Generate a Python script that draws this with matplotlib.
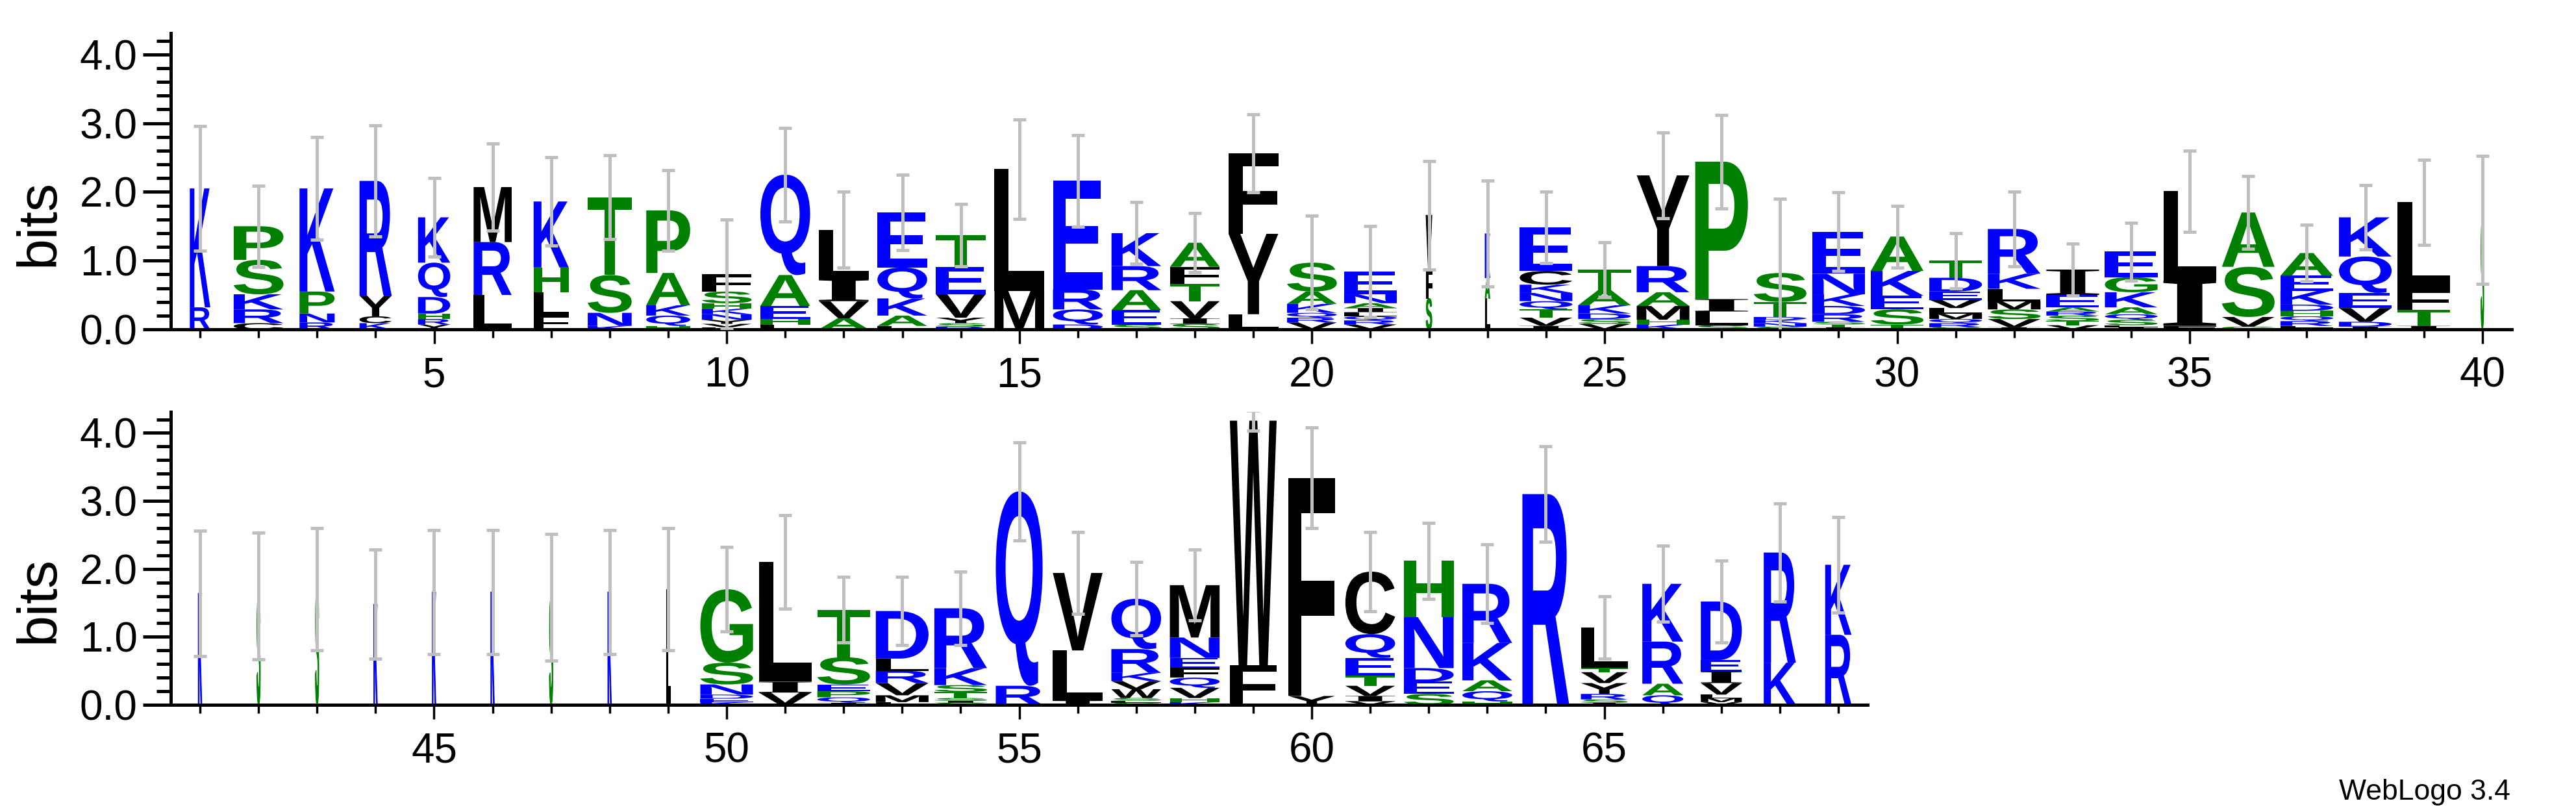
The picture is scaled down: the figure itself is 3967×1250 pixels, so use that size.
import matplotlib
matplotlib.use("Agg")
import matplotlib.pyplot as plt
import matplotlib.transforms as mtransforms
from matplotlib.textpath import TextPath
from matplotlib.font_manager import FontProperties
from matplotlib.patches import PathPatch
from matplotlib.ticker import MultipleLocator

# ── data: letters bottom→top, heights in bits, column widths, error-bar tops ──
top_letters = ["RK", "CRKSP", "RNPK", "KCYR", "YRHDQK", "LRM", "FLHK", "KNST", "HQKAP",
               "LVYNKHSF", "LHEAQ", "AVIL", "LAKQE", "RSYVET", "ML", "DQRE", "SEARK",
               "SIVTFA", "LYF", "VRQKAS", "VRQLIANE", "SFV", "LAK", "IVTQNKCE", "VSDKAT",
               "KHMARY", "SLIP", "SNKDTS", "ITSRDKNE", "TSEKA", "SRQMLVEDT", "IVSMLKR",
               "VTSRAEI", "ILSQAKGE", "FIL", "GVSA", "ILRQHDKEA", "IDVEQK", "ITFL", "S"]
top_heights = [[0.32, 1.73], [0.09, 0.2, 0.22, 0.5, 0.49], [0.1, 0.13, 0.32, 1.5],
               [0.09, 0.1, 0.3, 1.67], [0.07, 0.08, 0.08, 0.24, 0.5, 0.66], [0.5, 0.77, 0.8],
               [0.2, 0.34, 0.36, 0.96], [0.05, 0.19, 0.55, 1.13], [0.05, 0.15, 0.15, 0.47, 0.91],
               [0.03, 0.05, 0.06, 0.08, 0.08, 0.08, 0.17, 0.25], [0.07, 0.08, 0.19, 0.45, 1.46],
               [0.16, 0.25, 0.32, 0.72], [0.05, 0.15, 0.25, 0.45, 0.8],
               [0.04, 0.05, 0.08, 0.34, 0.4, 0.46], [0.56, 1.77], [0.07, 0.22, 0.29, 1.58],
               [0.07, 0.21, 0.29, 0.35, 0.48], [0.08, 0.08, 0.25, 0.25, 0.25, 0.35],
               [0.22, 1.17, 1.17], [0.1, 0.07, 0.07, 0.13, 0.18, 0.42],
               [0.07, 0.06, 0.06, 0.06, 0.06, 0.07, 0.13, 0.33], [0.45, 0.42, 0.79],
               [0.45, 0.3, 0.64], [0.05, 0.12, 0.12, 0.12, 0.12, 0.12, 0.2, 0.63],
               [0.08, 0.07, 0.08, 0.12, 0.22, 0.3], [0.07, 0.07, 0.2, 0.2, 0.38, 1.32],
               [0.06, 0.2, 0.18, 2.0], [0.04, 0.05, 0.05, 0.04, 0.22, 0.42, 0.66],
               [0.03, 0.04, 0.04, 0.11, 0.12, 0.17, 0.3, 0.61], [0.07, 0.22, 0.2, 0.36, 0.5],
               [0.03, 0.06, 0.06, 0.08, 0.08, 0.12, 0.12, 0.2, 0.25],
               [0.03, 0.12, 0.14, 0.12, 0.18, 0.22, 0.65], [0.06, 0.06, 0.08, 0.06, 0.06, 0.18, 0.37],
               [0.03, 0.03, 0.08, 0.08, 0.1, 0.22, 0.22, 0.37], [0.05, 0.66, 1.3],
               [0.04, 0.14, 0.73, 0.79], [0.02, 0.03, 0.07, 0.07, 0.08, 0.09, 0.2, 0.22, 0.33],
               [0.04, 0.07, 0.2, 0.22, 0.53, 0.57], [0.05, 0.23, 0.3, 1.27], [1.59]]
top_widths = [0.35, 0.85, 0.6, 0.55, 0.55, 0.65, 0.6, 0.75, 0.75, 0.85, 0.85, 0.85, 0.85,
              0.85, 0.85, 0.85, 0.85, 0.85, 0.85, 0.85, 0.9, 0.1, 0.08, 0.9, 0.9, 0.9, 0.9,
              0.9, 0.9, 0.9, 0.9, 0.9, 0.9, 0.9, 0.9, 0.9, 0.9, 0.9, 0.9, 0.05]
top_err_hi = [2.96, 2.09, 2.8, 2.97, 2.2, 2.7, 2.5, 2.53, 2.32, 1.6, 2.93, 2.0, 2.25, 1.82,
              3.05, 2.83, 1.85, 1.69, 3.13, 1.65, 1.5, 2.45, 2.16, 2.0, 1.27, 2.86, 3.12, 1.9,
              1.99, 1.8, 1.4, 2.0, 1.25, 1.55, 2.6, 2.23, 1.52, 2.1, 2.47, 2.52]

bot_letters = ["K", "S", "S", "K", "K", "K", "S", "K", "L", "KEDNSG", "VIL", "IQPEST",
               "FMVRLD", "SISTSKR", "RQ", "ILV", "SLSWVKRQ", "KHVQFENM", "FW", "YF",
               "VIVTEQC", "SEDNH", "HQAKR", "R", "ISRYVTL", "QARK", "VMLVIED", "KR", "RK"]
bot_heights = [[1.64], [1.6], [1.7], [1.48], [1.66], [1.66], [1.58], [1.66], [1.7],
               [0.04, 0.05, 0.06, 0.15, 0.32, 1.08], [0.18, 0.16, 1.76],
               [0.03, 0.08, 0.09, 0.1, 0.4, 0.7], [0.04, 0.1, 0.18, 0.18, 0.18, 0.7],
               [0.03, 0.03, 0.04, 0.09, 0.1, 0.25, 0.88], [0.28, 2.86], [0.06, 0.74, 1.14],
               [0.03, 0.03, 0.04, 0.13, 0.12, 0.12, 0.35, 0.74],
               [0.04, 0.06, 0.15, 0.15, 0.14, 0.15, 0.3, 0.77], [0.58, 3.6], [0.13, 3.21],
               [0.05, 0.08, 0.15, 0.15, 0.26, 0.35, 0.92], [0.16, 0.18, 0.2, 0.75, 0.83],
               [0.05, 0.15, 0.16, 0.55, 0.87], [3.1], [0.03, 0.05, 0.08, 0.16, 0.16, 0.06, 0.6],
               [0.14, 0.17, 0.62, 0.85], [0.04, 0.06, 0.05, 0.17, 0.17, 0.17, 0.86], [0.62, 1.62],
               [1.03, 1.03]]
bot_widths = [0.06] * 9 + [0.9, 0.9, 0.9, 0.9, 0.9, 0.8, 0.85, 0.85, 0.85, 0.8, 0.8, 0.85,
                           0.85, 0.85, 0.8, 0.8, 0.7, 0.7, 0.55, 0.45]
bot_err_hi = [2.56, 2.53, 2.6, 2.28, 2.57, 2.57, 2.51, 2.57, 2.6, 2.32, 2.79, 1.88, 1.88,
              1.96, 3.86, 2.54, 2.1, 2.28, 4.33, 4.08, 2.54, 2.68, 2.36, 3.8, 1.6, 2.34, 2.12,
              2.96, 2.76]

BLUE, GREEN, BLACK = "#0000ff", "#008000", "#000000"
colour = {c: BLUE for c in "KRDENQ"}
colour.update({c: GREEN for c in "STAGPH"})

fp_sans = FontProperties(family="Liberation Sans", weight="bold")
fp_serif = FontProperties(family="Liberation Serif", weight="bold")
glyphs = {}


def letter(ax, ch, x, y0, w, h):
    if h <= 0:
        return
    if ch not in glyphs:
        glyphs[ch] = TextPath((0, 0), ch, size=1, prop=fp_serif if ch == "I" else fp_sans)
    tp = glyphs[ch]
    bb = tp.get_extents()
    t = (mtransforms.Affine2D().translate(-bb.x0, -bb.y0)
         .scale(w / bb.width, h / bb.height).translate(x - w / 2, y0))
    c = colour.get(ch, BLACK)
    ax.add_patch(PathPatch(t.transform_path(tp), fc=c, ec=c, lw=0.8 if w < 0.2 else 0))


def panel(ax, start, letters, heights, widths, err_hi, xmax):
    pos = list(range(start, start + len(letters)))
    totals = []
    for p, lets, hs, w in zip(pos, letters, heights, widths):
        y = 0.0
        for ch, h in zip(lets, hs):
            letter(ax, ch, p, y, w, h)
            y += h
        totals.append(y)
    errs = [hi - t for hi, t in zip(err_hi, totals)]
    ax.errorbar(pos, totals, yerr=errs, fmt="none", ecolor="#bfbfbf", elinewidth=3.6,
                capsize=7, capthick=3.6, zorder=3)
    ax.set_xlim(start - 0.5, xmax)
    ax.set_ylim(0, 4.31)
    for s in ("top", "right"):
        ax.spines[s].set_visible(False)
    ax.spines["left"].set_linewidth(3.6)
    ax.spines["bottom"].set_linewidth(3.6)
    ax.yaxis.set_major_locator(MultipleLocator(1.0))
    ax.yaxis.set_minor_locator(MultipleLocator(0.2))
    ax.yaxis.set_major_formatter(plt.FormatStrFormatter("%.1f"))
    ax.tick_params(axis="y", which="major", length=31, width=3.6, pad=6, labelsize=46)
    ax.tick_params(axis="y", which="minor", length=16, width=3.6)
    ax.set_xticks([p for p in pos if p % 5 == 0])
    ax.set_xticks(pos, minor=True)
    ax.tick_params(axis="x", which="major", length=16, width=2.5, pad=14, labelsize=46)
    ax.tick_params(axis="x", which="minor", length=9, width=2.5)
    for lab in ax.get_xticklabels() + ax.get_yticklabels():
        lab.set_family(["Liberation Sans Narrow", "Liberation Sans", "DejaVu Sans"])
    ax.set_ylabel("bits", fontsize=62, family=["Liberation Sans", "DejaVu Sans"])


fig = plt.figure(figsize=(39.67, 12.5), dpi=100)
ax1 = fig.add_axes([0.0663, 0.5944, 0.9087, 0.3648])
ax2 = fig.add_axes([0.0663, 0.132, 0.6587, 0.3608])
panel(ax1, 1, top_letters, top_heights, top_widths, top_err_hi, 40.5)
panel(ax2, 41, bot_letters, bot_heights, bot_widths, bot_err_hi, 69.5)
ax1.yaxis.set_label_coords(-0.045, 0.36)
ax2.yaxis.set_label_coords(-0.045 * 0.9087 / 0.6587, 0.36)

fig.text(0.9745, 0.024, "WebLogo 3.4", ha="right", va="center", fontsize=32,
         family=["Liberation Sans", "DejaVu Sans"])

fig.savefig("out.png", dpi=100)
